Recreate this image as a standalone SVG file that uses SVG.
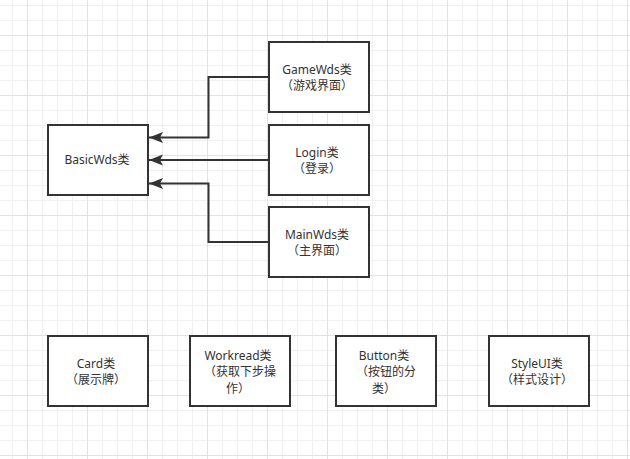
<svg xmlns="http://www.w3.org/2000/svg" width="630" height="459" viewBox="0 0 630 459">
<style>
.box{fill:#ffffff;stroke:#333333;stroke-width:2}
.lbl{font-family:"Noto Sans","Noto Sans CJK SC",sans-serif;font-size:12px;fill:#333333;text-anchor:middle}
.edge{fill:none;stroke:#333333;stroke-width:2;marker-end:url(#arr)}
</style>
<defs>
<pattern id="grid" x="27" y="35" width="60" height="60" patternUnits="userSpaceOnUse">
<rect x="15" y="0" width="1" height="60" fill="#f0f0f0"/>
<rect x="30" y="0" width="1" height="60" fill="#f0f0f0"/>
<rect x="45" y="0" width="1" height="60" fill="#f0f0f0"/>
<rect x="0" y="15" width="60" height="1" fill="#f0f0f0"/>
<rect x="0" y="30" width="60" height="1" fill="#f0f0f0"/>
<rect x="0" y="45" width="60" height="1" fill="#f0f0f0"/>
<rect x="0" y="0" width="1" height="60" fill="#e2e2e2"/>
<rect x="0" y="0" width="60" height="1" fill="#e2e2e2"/>
</pattern>
<marker id="arr" markerUnits="userSpaceOnUse" markerWidth="16" markerHeight="12" viewBox="0 -6 16 12" refX="14" refY="0" orient="auto">
<path d="M0,-5.5 L14,0 L0,5.5 L3,0 Z" fill="#333333"/>
</marker>
</defs>
<rect width="630" height="459" fill="#ffffff"/>
<rect width="630" height="459" fill="url(#grid)"/>

<g id="connectors">
<path class="edge" d="M269,77 H208.5 V137.5 H149"/>
<path class="edge" d="M269,160 H149"/>
<path class="edge" d="M269,242 H208.5 V183.5 H149"/>
</g>

<g id="basicwds">
<rect class="box" x="48" y="125" width="100" height="70"/>
<text class="lbl" x="97" y="164">BasicWds类</text>
</g>
<g id="gamewds">
<rect class="box" x="269" y="42" width="100" height="70"/>
<text class="lbl" x="317" y="73.5">GameWds类</text>
<text class="lbl" x="317" y="90">（游戏界面）</text>
</g>
<g id="login">
<rect class="box" x="269" y="125" width="100" height="70"/>
<text class="lbl" x="317" y="156.5">Login类</text>
<text class="lbl" x="317" y="173">（登录）</text>
</g>
<g id="mainwds">
<rect class="box" x="269" y="207" width="100" height="70"/>
<text class="lbl" x="317" y="238.5">MainWds类</text>
<text class="lbl" x="317" y="255">（主界面）</text>
</g>
<g id="card">
<rect class="box" x="48" y="336" width="100" height="70"/>
<text class="lbl" x="96" y="367.5">Card类</text>
<text class="lbl" x="96" y="384">（展示牌）</text>
</g>
<g id="workread">
<rect class="box" x="190" y="336" width="100" height="70"/>
<text class="lbl" x="238" y="359.5">Workread类</text>
<text class="lbl" x="240" y="376">（获取下步操</text>
<text class="lbl" x="238" y="392.5">作）</text>
</g>
<g id="button">
<rect class="box" x="336" y="336" width="100" height="70"/>
<text class="lbl" x="384" y="359.5">Button类</text>
<text class="lbl" x="386" y="376">（按钮的分</text>
<text class="lbl" x="384" y="392.5">类）</text>
</g>
<g id="styleui">
<rect class="box" x="489" y="336" width="100" height="70"/>
<text class="lbl" x="537" y="367.5">StyleUI类</text>
<text class="lbl" x="537" y="384">（样式设计）</text>
</g>
</svg>
